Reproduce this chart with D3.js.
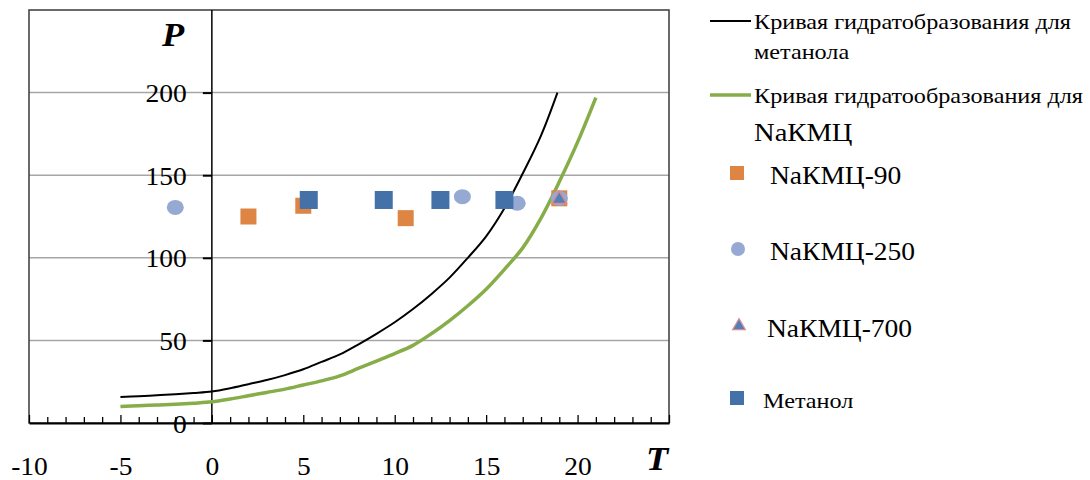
<!DOCTYPE html>
<html>
<head>
<meta charset="utf-8">
<script src="https://cdn.jsdelivr.net/npm/d3@7"></script>
<style>
  body { margin: 0; background: #fff; }
</style>
</head>
<body>
<div class="chart"></div>
<script>
// hydrate formation curves (T, P)
const methanolCurveT = [-5, -4, -3, -2, -1, 0, 1, 2, 3, 4, 5, 6, 7, 8, 9, 10, 11, 12, 13, 14, 15, 16, 17, 18, 18.9];
const methanolCurveP = [15.7, 16.2, 16.8, 17.4, 18.1, 19, 21, 23.5, 26, 29, 32.5, 37, 41.5, 47.5, 54, 61, 69, 78, 88, 100, 113, 130, 151, 174, 200];
const nakmcCurveT = [-5, -4, -3, -2, -1, 0, 1, 2, 3, 4, 5, 6, 7, 8, 9, 10, 11, 12, 13, 14, 15, 16, 17, 18, 19, 20, 21];
const nakmcCurveP = [10, 10.4, 10.9, 11.4, 12, 12.8, 14.5, 16.5, 18.5, 20.5, 23, 25.5, 28.5, 33, 37.5, 42, 47, 54, 62, 71, 81, 93, 106, 124, 146, 170, 197];

// experimental points
const nakmc90T = [2, 5, 10.6, 19];
const nakmc90P = [125, 131.5, 124, 136];
const nakmc250T = [-2, 13.7, 16.7, 19];
const nakmc250P = [130.5, 137, 133, 136];
const nakmc700T = [19];
const nakmc700P = [136];
const methanolT = [5.3, 9.4, 12.5, 16];
const methanolP = [135, 135, 135, 135];

const yTicks = [0, 50, 100, 150, 200];
const xLabels = [-10, -5, 0, 5, 10, 15, 20];

const zip = (xs, ys) => xs.map((t, i) => ({ t: t, p: ys[i] }));
const FONT = "Liberation Serif";
const SX = 1.1; // the source picture is a little stretched sideways

const W = 1090, H = 480;
const svg = d3.select(".chart").append("svg").attr("width", W).attr("height", H);

const x = d3.scaleLinear().domain([-10, 25]).range([29, 669]);
const y = d3.scaleLinear().domain([0, 250]).range([423, 10]);

// grid
svg.append("g")
  .selectAll("line")
  .data(yTicks.filter((d) => d > 0))
  .enter()
  .append("line")
  .attr("x1", x(-10))
  .attr("x2", x(25))
  .attr("y1", (d) => y(d))
  .attr("y2", (d) => y(d))
  .style("stroke", "#a6a6a6")
  .style("stroke-width", 1.5);

// frame
svg.append("rect")
  .attr("x", x(-10))
  .attr("y", y(250))
  .attr("width", x(25) - x(-10))
  .attr("height", y(0) - y(250))
  .style("fill", "none")
  .style("stroke", "#3a3a3a")
  .style("stroke-width", 1.5);

// x axis, minor ticks every 1, labels every 5
const xAxis = svg.append("g")
  .attr("transform", `translate(0,${y(0)})`)
  .call(
    d3.axisBottom(x)
      .tickValues(d3.range(-10, 26))
      .tickSizeInner(-6)
      .tickSizeOuter(0)
      .tickPadding(34)
      .tickFormat((d) => (xLabels.includes(d) ? d : ""))
  )
  .attr("font-family", FONT)
  .attr("font-size", 25);
xAxis.select(".domain").style("stroke", "#000").style("stroke-width", 2);
xAxis.selectAll(".tick line")
  .attr("y2", (d) => (d % 5 === 0 ? -8 : -6))
  .style("stroke", "#000")
  .style("stroke-width", 1.3);
xAxis.selectAll(".tick text")
  .attr("fill", "#000")
  .attr("transform", `scale(${SX},1)`);

// y axis at T = 0
const yAxis = svg.append("g")
  .attr("transform", `translate(${x(0)},0)`)
  .call(
    d3.axisLeft(y)
      .tickValues(yTicks)
      .tickSizeInner(9)
      .tickSizeOuter(0)
      .tickPadding(16)
  )
  .attr("font-family", FONT)
  .attr("font-size", 25);
yAxis.select(".domain")
  .attr("d", `M0,${y(250)}V${y(0)}`)
  .style("stroke", "#000")
  .style("stroke-width", 1.5);
yAxis.selectAll(".tick line").style("stroke", "#000").style("stroke-width", 2);
yAxis.selectAll(".tick text")
  .attr("fill", "#000")
  .attr("dy", "0.36em")
  .attr("x", 0)
  .attr("transform", `translate(-25,0) scale(${SX},1)`);

// axis titles
const title = (tx, ty, s) =>
  svg.append("text")
    .attr("transform", `translate(${tx},${ty}) scale(${SX},1)`)
    .attr("text-anchor", "middle")
    .attr("font-family", FONT)
    .attr("font-size", 33)
    .attr("font-weight", "bold")
    .attr("font-style", "italic")
    .text(s);
title(173, 46, "P");
title(657, 470, "T");

// curves
const line = d3.line()
  .x((d) => x(d.t))
  .y((d) => y(d.p))
  .curve(d3.curveCatmullRom);

svg.append("path")
  .attr("d", line(zip(nakmcCurveT, nakmcCurveP)))
  .style("fill", "none")
  .style("stroke", "#86ad48")
  .style("stroke-width", 3.5);

svg.append("path")
  .attr("d", line(zip(methanolCurveT, methanolCurveP)))
  .style("fill", "none")
  .style("stroke", "#000")
  .style("stroke-width", 2);

// markers
const squares = (data, color, size) => {
  svg.append("g")
    .selectAll("rect")
    .data(data)
    .enter()
    .append("rect")
    .attr("x", (d) => x(d.t) - size / 2)
    .attr("y", (d) => y(d.p) - size / 2)
    .attr("width", size)
    .attr("height", size)
    .style("fill", color);
};

squares(zip(nakmc90T, nakmc90P), "#de8544", 16);

svg.append("g")
  .selectAll("ellipse")
  .data(zip(nakmc250T, nakmc250P))
  .enter()
  .append("ellipse")
  .attr("cx", (d) => x(d.t))
  .attr("cy", (d) => y(d.p))
  .attr("rx", 8.5)
  .attr("ry", 7.5)
  .style("fill", "#95a9d3");

squares(zip(methanolT, methanolP), "#4472a8", 18);

const tri = d3.symbol().type(d3.symbolTriangle).size(90);
svg.append("g")
  .selectAll("path")
  .data(zip(nakmc700T, nakmc700P))
  .enter()
  .append("path")
  .attr("transform", (d) => `translate(${x(d.t)},${y(d.p) + 1})`)
  .attr("d", tri)
  .style("fill", "#4f7fbd")
  .style("stroke", "#d98a8a")
  .style("stroke-width", 1.5);

// legend
const legend = svg.append("g").attr("font-family", FONT);
const label = (lx, ly, size, s) =>
  legend.append("text")
    .attr("transform", `translate(${lx},${ly}) scale(${SX},1)`)
    .attr("font-size", size)
    .text(s);

legend.append("line")
  .attr("x1", 710).attr("x2", 751).attr("y1", 21).attr("y2", 21)
  .style("stroke", "#000").style("stroke-width", 2);
label(754, 29, 22, "Кривая гидратобразования для");
label(754, 59, 22, "метанола");

legend.append("line")
  .attr("x1", 710).attr("x2", 751).attr("y1", 95).attr("y2", 95)
  .style("stroke", "#86ad48").style("stroke-width", 3.5);
label(754, 103, 22, "Кривая гидратообразования для");
label(754, 141, 26, "NaКМЦ");

legend.append("rect")
  .attr("x", 730).attr("y", 166).attr("width", 14).attr("height", 14)
  .style("fill", "#de8544");
label(770, 184, 25, "NaКМЦ-90");

legend.append("circle")
  .attr("cx", 738).attr("cy", 249).attr("r", 7)
  .style("fill", "#95a9d3");
label(770, 260, 25, "NaКМЦ-250");

legend.append("path")
  .attr("transform", "translate(739,326)")
  .attr("d", d3.symbol().type(d3.symbolTriangle).size(70))
  .style("fill", "#4f7fbd")
  .style("stroke", "#d98a8a")
  .style("stroke-width", 1.2);
label(767, 337, 25, "NaКМЦ-700");

legend.append("rect")
  .attr("x", 730).attr("y", 391).attr("width", 14).attr("height", 14)
  .style("fill", "#4472a8");
label(763, 408, 22, "Метанол");
</script>
</body>
</html>
